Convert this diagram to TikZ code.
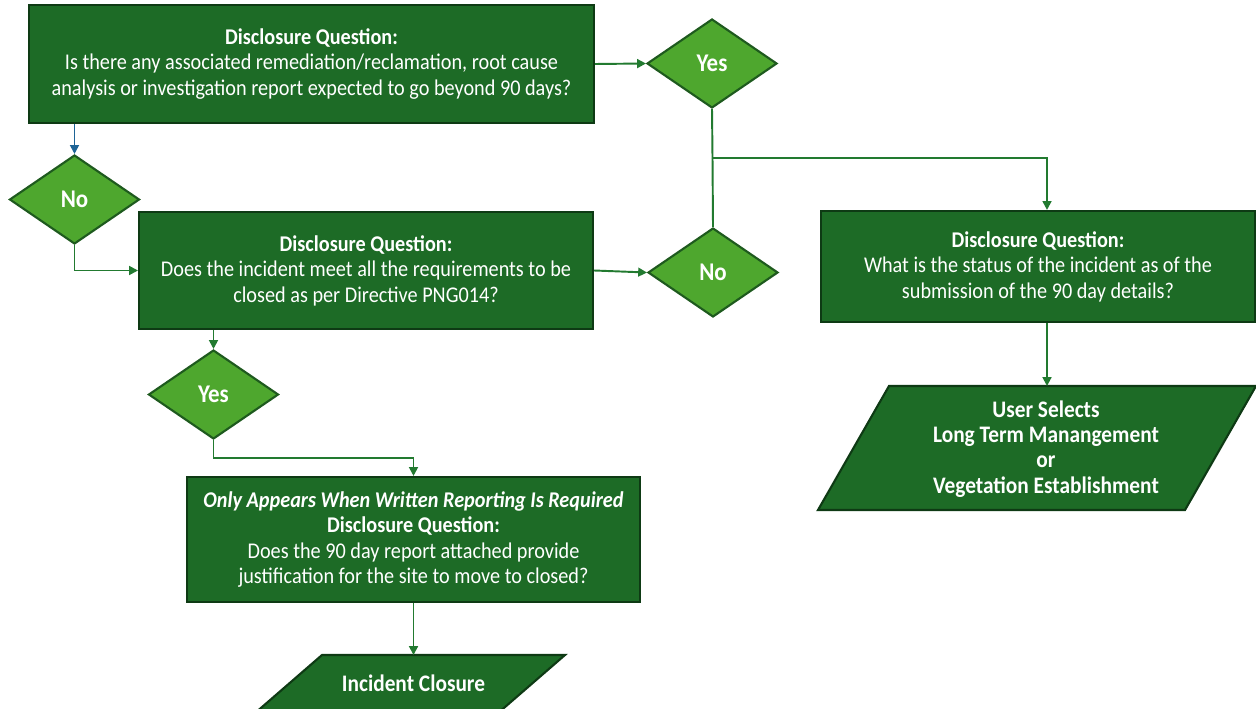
\documentclass[tikz,border=0pt]{standalone}
\usepackage{fontspec}
\setmainfont{Carlito}[FakeStretch=0.9]
\usetikzlibrary{shapes.geometric,arrows.meta}
\definecolor{boxfill}{RGB}{29,107,38}
\definecolor{boxline}{RGB}{14,58,20}
\definecolor{dfill}{RGB}{78,167,46}
\definecolor{dline}{RGB}{30,90,30}
\definecolor{arr}{RGB}{34,122,48}
\definecolor{barr}{RGB}{30,100,150}
\tikzset{
  qbox/.style={rectangle,draw=boxline,line width=1.2pt,fill=boxfill,text=white,align=center,inner sep=0pt,font=\fontsize{12.8}{14.5}\selectfont},
  dec/.style={diamond,draw=dline,line width=1.2pt,fill=dfill,text=white,inner sep=0pt,minimum width=2.6cm,minimum height=1.78cm,font=\fontsize{14.5}{16}\selectfont\bfseries},
  para/.style={draw=boxline,line width=1.2pt,fill=boxfill},
  ptext/.style={text=white,align=center,font=\fontsize{13.5}{14.4}\selectfont\bfseries},
  conn/.style={draw=arr,line width=1.1pt,-{Triangle[length=5pt,width=5pt]}},
  plain/.style={draw=arr,line width=1.1pt},
}
\begin{document}
\begin{tikzpicture}[x=0.02cm,y=-0.02cm]
\clip (0,0) rectangle (1256,709);
\fill[white] (0,0) rectangle (1256,709);
% boxes
\node[qbox,minimum width=11.3cm,minimum height=2.36cm] (b1) at (311.5,64)
  {\textbf{Disclosure Question:}\\Is there any associated remediation/reclamation, root cause\\analysis or investigation report expected to go beyond 90 days?};
\node[qbox,minimum width=9.08cm,minimum height=2.34cm] (b2) at (366,270.5)
  {\textbf{Disclosure Question:}\\Does the incident meet all the requirements to be\\closed as per Directive PNG014?};
\node[qbox,minimum width=8.68cm,minimum height=2.22cm] (b3) at (1038,266.5)
  {\textbf{Disclosure Question:}\\What is the status of the incident as of the\\submission of the 90 day details?};
\node[qbox,minimum width=9.06cm,minimum height=2.5cm] (b4) at (413.5,539.5)
  {\textbf{\textit{Only Appears When Written Reporting Is Required}}\\\textbf{Disclosure Question:}\\Does the 90 day report attached provide\\justification for the site to move to closed?};
% diamonds
\node[dec] (y1) at (712,63.5) {Yes};
\node[dec] (n1) at (74.5,199.5) {No};
\node[dec] (n2) at (713,272.5) {No};
\node[dec] (y2) at (213.5,394.5) {Yes};
% parallelograms
\path[para] (322,655) -- (565,655) -- (467,740) -- (224,740) -- cycle;
\coordinate (p1top) at (413.5,655);
\node[ptext] (p1) at (413.5,683) {Incident Closure};
\path[para] (889,386) -- (1256,386) -- (1185,510) -- (818,510) -- cycle;
\coordinate (p2top) at (1047,386);
\node[ptext] (p2) at (1046,449) {User Selects\\Long Term Manangement\\or\\Vegetation Establishment};
% connectors
\draw[conn] (b1.east) -- (y1.west);
\draw[conn,draw=barr] (b1.south -| n1.north) -- (n1.north);
\draw[conn] (n1.south) |- (b2.west);
\draw[conn] (b2.east) -- (n2.west);
\coordinate (j) at (712.5,158);
\draw[plain] (y1.south) -- (j);
\draw[plain] (n2.north) -- (j);
\draw[conn] (j) -| (b3.north -| p2top);
\draw[conn] (b3.south -| p2top) -- (p2top);
\draw[conn] (b2.south -| y2.north) -- (y2.north);
\coordinate (k) at (213.5,458);
\draw[conn] (y2.south) -- (k) -| (b4.north -| p1top);
\draw[conn] (b4.south -| p1top) -- (p1top);
\end{tikzpicture}
\end{document}
